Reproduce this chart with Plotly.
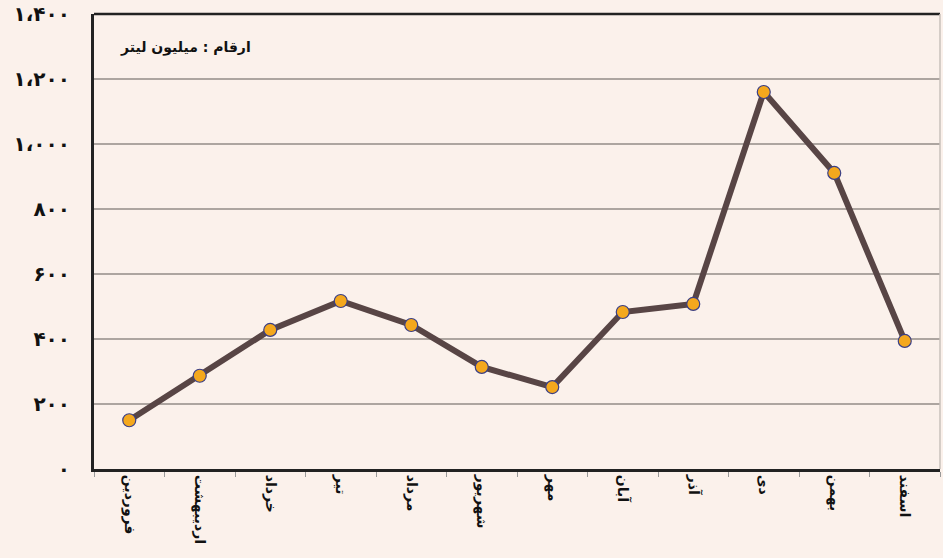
import plotly.graph_objects as go

# ماه‌ها و مقادیر (میلیون لیتر)
months = ["فروردین", "اردیبهشت", "خرداد", "تیر", "مرداد", "شهریور",
          "مهر", "آبان", "آذر", "دی", "بهمن", "اسفند"]
values = [150, 287, 428, 517, 443, 314, 252, 483, 508, 1160, 911, 394]

ytick_vals = [0, 200, 400, 600, 800, 1000, 1200, 1400]
ytick_text = ["۰", "۲۰۰", "۴۰۰", "۶۰۰", "۸۰۰", "۱،۰۰۰", "۱،۲۰۰", "۱،۴۰۰"]

bg = "#FBF1EB"

fig = go.Figure()
fig.add_trace(go.Scatter(
    x=months, y=values, mode="lines+markers",
    line=dict(color="#584545", width=6),
    marker=dict(size=13, color="#F4A81D", line=dict(color="#3A3F86", width=1.2)),
    showlegend=False,
))

fig.update_layout(
    width=943, height=558,
    paper_bgcolor=bg, plot_bgcolor=bg,
    margin=dict(l=94, r=3, t=14, b=89),
    font=dict(family="DejaVu Sans", color="#111"),
    annotations=[dict(
        text="<b>ارقام : میلیون لیتر</b>", xref="paper", yref="paper",
        x=0.028, y=0.927, xanchor="left", yanchor="middle", showarrow=False,
        font=dict(size=14, color="#111"),
    )],
    shapes=[
        dict(type="line", xref="paper", yref="paper", x0=0, x1=1, y0=1, y1=1,
             line=dict(color="#222", width=2.5)),
        dict(type="line", xref="paper", yref="paper", x0=1, x1=1, y0=0, y1=1,
             line=dict(color="#C9C0BB", width=1.5)),
    ],
)

fig.update_xaxes(
    type="category", range=[-0.5, len(months) - 0.5],
    showgrid=False, showline=True, linecolor="#222", linewidth=3,
    ticks="outside", tickson="boundaries", ticklen=5, tickcolor="#999",
    tickangle=90, tickfont=dict(size=14, family="DejaVu Sans", color="#111"),
    tickprefix="<b>", ticksuffix="</b>", automargin=False,
)
fig.update_yaxes(
    range=[0, 1400], tickvals=ytick_vals, ticktext=["<b>" + t + "</b>" for t in ytick_text],
    showgrid=True, gridcolor="#ADA5A0", gridwidth=1.5,
    showline=True, linecolor="#222", linewidth=3, zeroline=False,
    tickfont=dict(size=20, color="#111"), ticklabelstandoff=17, automargin=False,
)

# drop the default 8px page margin so the figure fills the window
fig.write_html("out.html", config={"displayModeBar": False},
               post_script="document.body.style.margin='0';"
                           "document.body.style.background='#FBF1EB';")
